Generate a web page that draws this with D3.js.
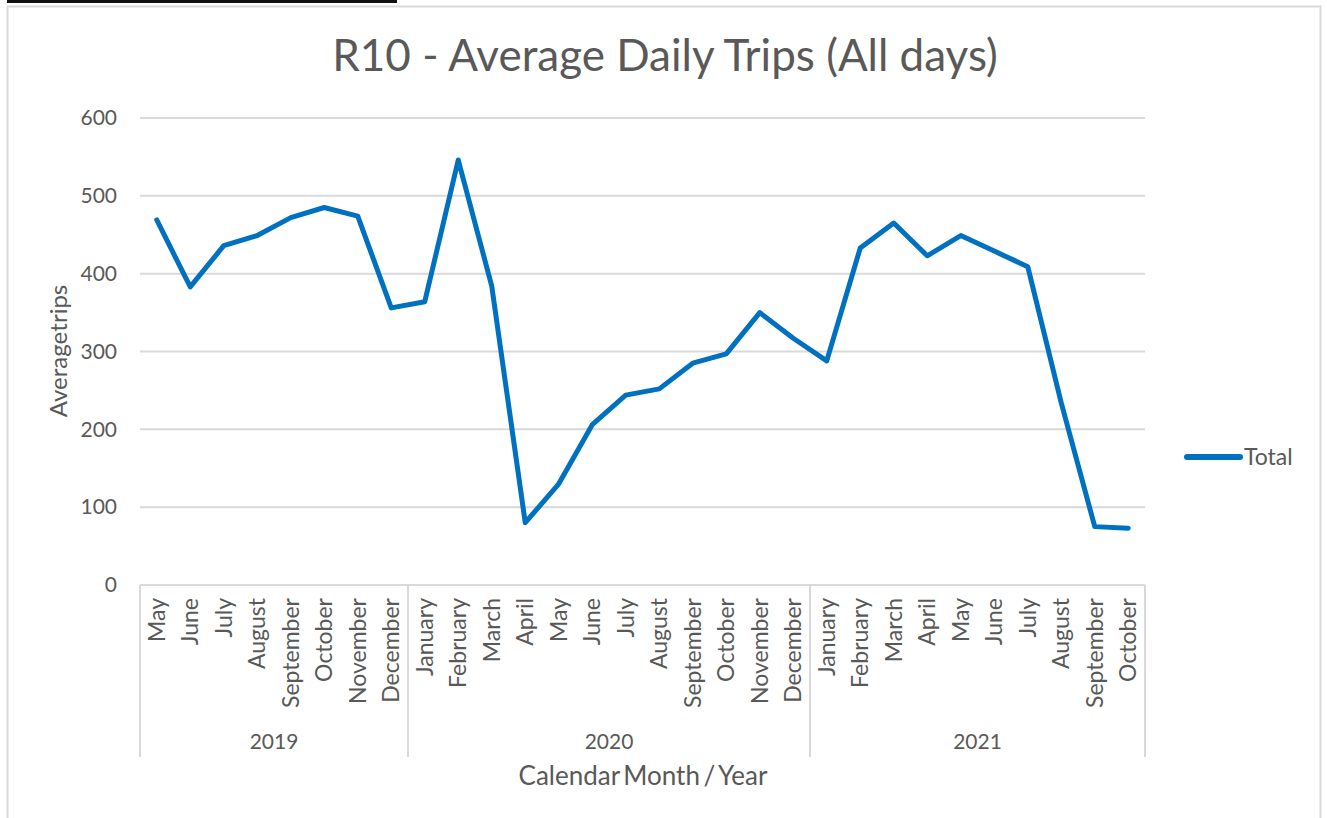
<!DOCTYPE html>
<html>
<head>
<meta charset="utf-8">
<script src="https://cdn.jsdelivr.net/npm/d3@7"></script>
<style>
  body { margin: 0; background: #fff; }
  text { font-family: Lato, "Open Sans", sans-serif; fill: #595959; }
</style>
</head>
<body>
<div id="chart"></div>
<script>
// data
var months = ["May","June","July","August","September","October","November","December",
  "January","February","March","April","May","June","July","August","September","October","November","December",
  "January","February","March","April","May","June","July","August","September","October"];
var years = [{year: "2019", count: 8}, {year: "2020", count: 12}, {year: "2021", count: 10}];
var totals = [469, 383, 436, 449, 472, 485, 474, 356,
  364, 546, 384, 80, 130, 206, 244, 252, 285, 297, 350, 317,
  288, 433, 465, 423, 449, 429, 409, 234, 75, 73];
var yTicks = [0, 100, 200, 300, 400, 500, 600];

var W = 1327, H = 818;
var plot = {left: 140, right: 1145, top: 118, bottom: 585};

var svg = d3.select("#chart").append("svg")
  .attr("width", W).attr("height", H);

// top black rule and outer frame
svg.append("rect").attr("x", 7).attr("y", 0).attr("width", 390).attr("height", 3).style("fill", "#111");
svg.append("rect").attr("x", 7.5).attr("y", 6.5).attr("width", 1313).attr("height", 830)
  .style("fill", "none").style("stroke", "#d9d9d9").style("stroke-width", 2);

var idx = d3.range(months.length);
var x = d3.scaleBand().domain(idx).range([plot.left, plot.right]);
var y = d3.scaleLinear().domain([0, 600]).range([plot.bottom, plot.top]);

// grid lines
svg.selectAll(".grid")
  .data(yTicks.filter(function(d) { return d > 0; }))
  .enter().append("line")
  .attr("x1", plot.left).attr("x2", plot.right)
  .attr("y1", function(d) { return y(d); }).attr("y2", function(d) { return y(d); })
  .style("stroke", "#d9d9d9").style("stroke-width", 2);

// y axis labels
var yAxis = svg.append("g")
  .attr("transform", "translate(" + plot.left + ",0)")
  .call(d3.axisLeft(y).tickValues(yTicks).tickSize(0).tickPadding(23));
yAxis.select(".domain").remove();
yAxis.selectAll("text").style("font-size", "21px").style("fill", "#595959")
  .style("font-family", "Lato, sans-serif");

// x axis: bottom line + month labels
svg.append("line").attr("x1", plot.left).attr("x2", plot.right)
  .attr("y1", plot.bottom).attr("y2", plot.bottom)
  .style("stroke", "#d9d9d9").style("stroke-width", 2);

svg.selectAll(".month")
  .data(idx)
  .enter().append("text")
  .attr("transform", function(i) {
    return "translate(" + (x(i) + x.bandwidth() / 2 + 8) + "," + (plot.bottom + 13) + ") rotate(-90)";
  })
  .attr("text-anchor", "end")
  .style("font-size", "23px")
  .text(function(i) { return months[i]; });

// year groups
var start = 0;
var yearPos = years.map(function(g) {
  var r = {year: g.year, x0: x(start), x1: x(start + g.count - 1) + x.bandwidth()};
  start += g.count;
  return r;
});
var sepX = [plot.left].concat(yearPos.map(function(g) { return g.x1; }));
svg.selectAll(".sep")
  .data(sepX)
  .enter().append("line")
  .attr("x1", function(d) { return d; }).attr("x2", function(d) { return d; })
  .attr("y1", plot.bottom).attr("y2", 757)
  .style("stroke", "#d9d9d9").style("stroke-width", 2);

svg.selectAll(".year")
  .data(yearPos)
  .enter().append("text")
  .attr("x", function(d) { return (d.x0 + d.x1) / 2; })
  .attr("y", 749)
  .attr("text-anchor", "middle")
  .style("font-size", "21px")
  .text(function(d) { return d.year; });

// axis titles
svg.append("text").attr("x", 643).attr("y", 785)
  .attr("text-anchor", "middle").style("font-size", "26px")
  .style("word-spacing", "-3px")
  .text("Calendar Month / Year");

svg.append("text")
  .attr("transform", "translate(67," + 351 + ") rotate(-90)")
  .attr("text-anchor", "middle").style("font-size", "24px")
  .style("word-spacing", "-6px")
  .text("Average trips");

// chart title
svg.append("text").attr("x", 665).attr("y", 71)
  .attr("text-anchor", "middle").style("font-size", "44px")
  .text("R10 - Average Daily Trips (All days)");

// line
var line = d3.line()
  .x(function(d, i) { return x(i) + x.bandwidth() / 2; })
  .y(function(d) { return y(d); });

svg.append("path")
  .datum(totals)
  .attr("d", line)
  .style("fill", "none")
  .style("stroke", "#0070c0")
  .style("stroke-width", 5)
  .style("stroke-linejoin", "round")
  .style("stroke-linecap", "round");

// legend
svg.append("line").attr("x1", 1187).attr("x2", 1240).attr("y1", 457).attr("y2", 457)
  .style("stroke", "#0070c0").style("stroke-width", 6).style("stroke-linecap", "round");
svg.append("text").attr("x", 1244).attr("y", 465).style("font-size", "23px").text("Total");
</script>
</body>
</html>
